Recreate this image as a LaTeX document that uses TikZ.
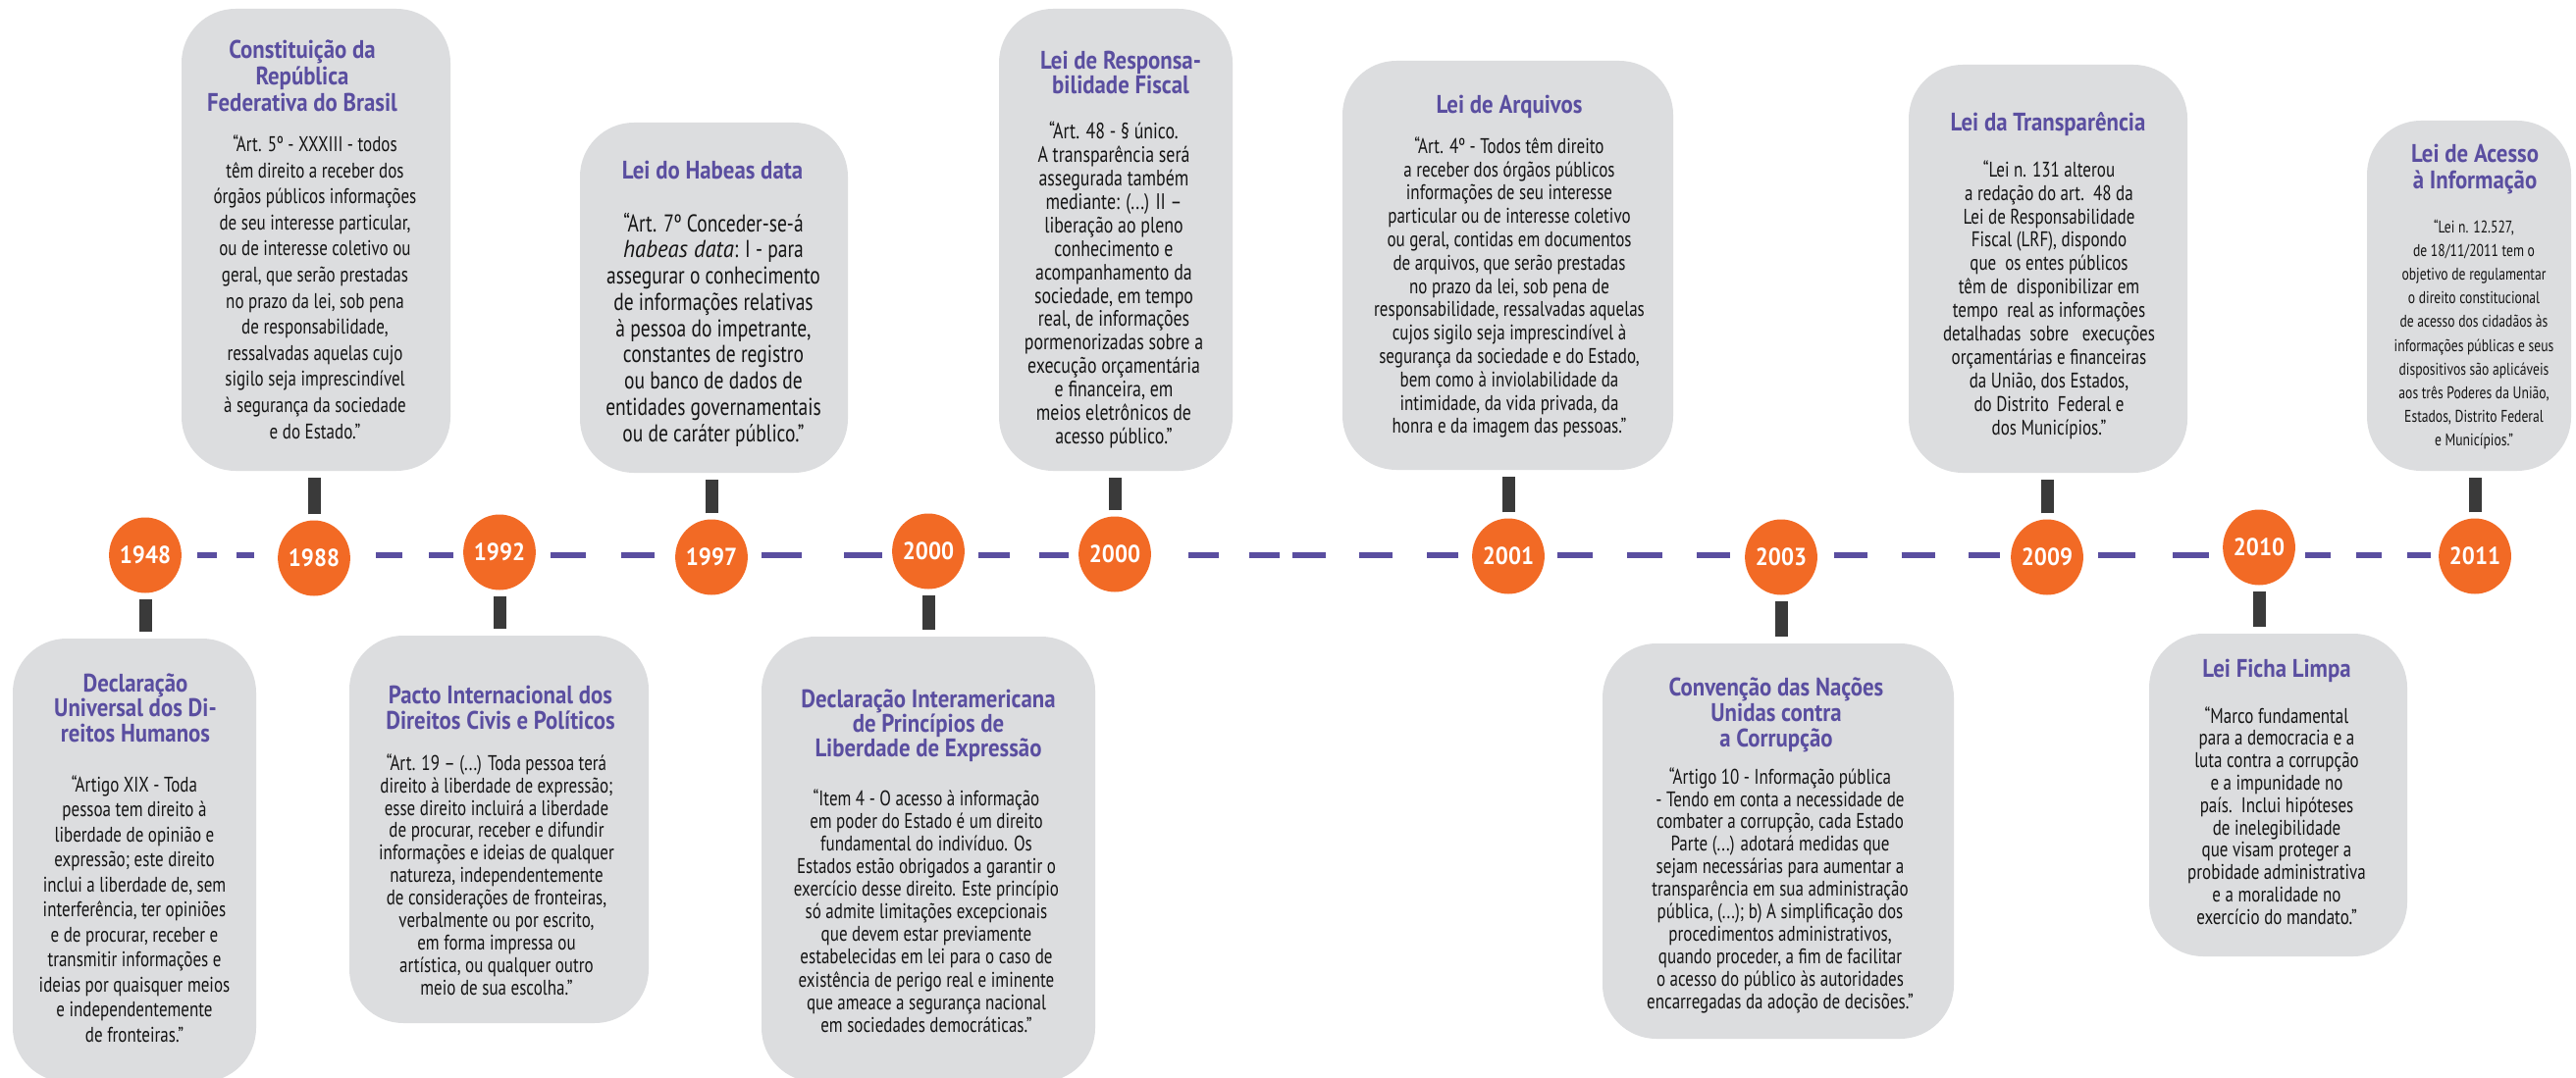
\documentclass[tikz,border=0pt]{standalone}
\usepackage{fontspec}
\setmainfont{PT Sans}
\newfontfamily\bodyf{PT Sans}[FakeStretch=0.787]
\newfontfamily\titlef{PT Sans}[FakeStretch=0.88]
\newfontfamily\yearf{PT Sans}[FakeStretch=0.92]
\newfontfamily\plainf{PT Sans}[FakeStretch=0.92]
\usetikzlibrary{shapes.geometric}
\definecolor{tlorange}{RGB}{242,106,37}
\definecolor{tlpurple}{RGB}{90,78,160}
\definecolor{tlgrey}{RGB}{220,221,223}
\definecolor{tlstub}{RGB}{58,58,58}
\definecolor{tltext}{RGB}{20,20,20}
\begin{document}
\begin{tikzpicture}[x=1pt,y=-1pt,
  yearnode/.style={ellipse, fill=tlorange, minimum width=72pt, minimum height=77pt, inner sep=0pt, text=white, font=\yearf\bfseries\fontsize{25}{25}\selectfont},
  card/.style={fill=tlgrey, rounded corners=55pt, inner sep=0pt},
  titletext/.style 2 args={align=center, inner sep=0pt, text=tlpurple, font=\titlef\bfseries\fontsize{#1}{#2}\selectfont},
  bodytext/.style 2 args={align=center, inner sep=0pt, text=tltext, font=\bodyf\fontsize{#1}{#2}\selectfont},
  stub/.style={draw=tlstub, line width=13pt, shorten <=6pt, shorten >=7pt},
  dashline/.style={draw=tlpurple, line width=5.5pt},
]
\useasboundingbox (0,0) rectangle (2625,1099);
\fill[white] (0,0) rectangle (2625,1099);

% ---------- cards ----------
\node[card, minimum width=248pt, minimum height=452pt] (b1948) at (137,877) {};
\node[card, minimum width=274pt, minimum height=471pt] (b1988) at (322,244.5) {};
\node[card, minimum width=305pt, minimum height=395pt] (b1992) at (508.5,845.5) {};
\node[card, minimum width=273pt, minimum height=357pt] (b1997) at (727.5,303.5) {};
\node[card, minimum width=340pt, minimum height=454pt] (b2000a) at (946,876) {};
\node[card, minimum width=238pt, minimum height=471pt] (b2000b) at (1137,244.5) {};
\node[card, minimum width=337pt, minimum height=417pt] (b2001) at (1536.5,270.5) {};
\node[card, minimum width=358pt, minimum height=403pt] (b2003) at (1812,857.5) {};
\node[card, minimum width=284pt, minimum height=416pt] (b2009) at (2087,274) {};
\node[card, minimum width=263pt, minimum height=329pt] (b2010) at (2321.5,810.5) {};
\node[card, minimum width=208pt, minimum height=357pt] (b2011) at (2516,301.5) {};

% ---------- year circles ----------
\node[yearnode] (c1948) at (148,566) {1948};
\node[yearnode] (c1988) at (320,569) {1988};
\node[yearnode] (c1992) at (509,563) {1992};
\node[yearnode] (c1997) at (725,568) {1997};
\node[yearnode] (c2000a) at (946,562) {2000};
\node[yearnode] (c2000b) at (1136,565) {2000};
\node[yearnode] (c2001) at (1537,567) {2001};
\node[yearnode] (c2003) at (1815,568) {2003};
\node[yearnode] (c2009) at (2086,568) {2009};
\node[yearnode] (c2010) at (2302,558) {2010};
\node[yearnode] (c2011) at (2522,567) {2011};

% ---------- dashed timeline ----------
\coordinate (lineY) at (0,566);
\draw[dashline, dash pattern=on 20pt off 20pt, shorten <=16pt, shorten >=24pt] (c1948.east |- lineY) -- (c1988.west |- lineY);
\draw[dashline, dash pattern=on 27pt off 27pt, shorten <=26pt, shorten >=10pt] (c1988.east |- lineY) -- (c1992.west |- lineY);
\draw[dashline, dash pattern=on 36pt off 36pt, shorten <=15pt, shorten >=21pt] (c1992.east |- lineY) -- (c1997.west |- lineY);
\draw[dashline, dash pattern=on 41pt off 43pt, shorten <=14pt, shorten >=10pt] (c1997.east |- lineY) -- (c2000a.west |- lineY);
\draw[dashline, dash pattern=on 32pt off 30pt, shorten <=14pt, shorten >=10pt] (c2000a.east |- lineY) -- (c2000b.west |- lineY);
\draw[dashline, dash pattern=on 31pt off 31pt on 31pt off 13pt on 34pt off 34pt on 34pt off 35pt on 34pt off 100pt, shorten <=38pt, shorten >=14pt] (c2000b.east |- lineY) -- (c2001.west |- lineY);
\draw[dashline, dash pattern=on 36pt off 35pt, shorten <=13pt, shorten >=15pt] (c2001.east |- lineY) -- (c2003.west |- lineY);
\draw[dashline, dash pattern=on 34pt off 34.5pt, shorten <=17pt, shorten >=11pt] (c2003.east |- lineY) -- (c2009.west |- lineY);
\draw[dashline, dash pattern=on 38pt off 38pt, shorten <=15pt, shorten >=14pt] (c2009.east |- lineY) -- (c2010.west |- lineY);
\draw[dashline, dash pattern=on 26pt off 26pt, shorten <=10pt, shorten >=8pt] (c2010.east |- lineY) -- (c2011.west |- lineY);

% ---------- stubs ----------
\draw[stub] (c1948.south) -- (c1948.south |- b1948.north);
\draw[stub] (c1988.north) -- (c1988.north |- b1988.south);
\draw[stub] (c1992.south) -- (c1992.south |- b1992.north);
\draw[stub] (c1997.north) -- (c1997.north |- b1997.south);
\draw[stub] (c2000a.south) -- (c2000a.south |- b2000a.north);
\draw[stub] (c2000b.north) -- (c2000b.north |- b2000b.south);
\draw[stub] (c2001.north) -- (c2001.north |- b2001.south);
\draw[stub] (c2003.south) -- (c2003.south |- b2003.north);
\draw[stub] (c2009.north) -- (c2009.north |- b2009.south);
\draw[stub] (c2010.south) -- (c2010.south |- b2010.north);
\draw[stub] (c2011.north) -- (c2011.north |- b2011.south);

% ---------- texts ----------
\node[titletext={25.9}{25.5}] (t1948) at (138,721.5) {Declaração\\Universal dos Di-\\reitos Humanos};
\node[bodytext={21.6}{25.5}] (x1948) at (137,926.5) {“Artigo XIX - Toda\\pessoa tem direito à\\liberdade de opinião e\\expressão; este direito\\inclui a liberdade de, sem\\interferência, ter opiniões\\e de procurar, receber e\\transmitir informações e\\ideias por quaisquer meios\\e independentemente\\de fronteiras.”};

\node[titletext={25.9}{27}] (t1988) at (308,77) {Constituição da\\República\\Federativa do Brasil};
\node[bodytext={21.6}{26.6}] (x1988) at (321,292.5) {“Art. 5º - XXXIII - todos\\têm direito a receber dos\\órgãos públicos informações\\de seu interesse particular,\\ou de interesse coletivo ou\\geral, que serão prestadas\\no prazo da lei, sob pena\\de responsabilidade,\\ressalvadas aquelas cujo\\sigilo seja imprescindível\\à segurança da sociedade\\e do Estado.”};

\node[titletext={25.9}{26}] (t1992) at (510,721) {Pacto Internacional dos\\Direitos Civis e Políticos};
\node[bodytext={21.6}{22.9}] (x1992) at (506,891.5) {“Art. 19 – (...) Toda pessoa terá\\direito à liberdade de expressão;\\esse direito incluirá a liberdade\\de procurar, receber e difundir\\informações e ideias de qualquer\\natureza, independentemente\\de considerações de fronteiras,\\verbalmente ou por escrito,\\em forma impressa ou\\artística, ou qualquer outro\\meio de sua escolha.”};

\node[titletext={25.9}{26}] (t1997) at (726,173) {Lei do Habeas data};
\node[bodytext={24.8}{26.75}] (x1997) at (727,336) {“Art. 7º Conceder-se-á\\{\plainf\itshape habeas data}: I - para\\assegurar o conhecimento\\de informações relativas\\à pessoa do impetrante,\\constantes de registro\\ou banco de dados de\\entidades governamentais\\ou de caráter público.”};

\node[titletext={25.9}{25}] (t2000a) at (946,740) {Declaração Interamericana\\de Princípios de\\Liberdade de Expressão};
\node[bodytext={21.6}{23.1}] (x2000a) at (944,928.5) {“Item 4 - O acesso à informação\\em poder do Estado é um direito\\fundamental do indivíduo. Os\\Estados estão obrigados a garantir o\\exercício desse direito. Este princípio\\só admite limitações excepcionais\\que devem estar previamente\\estabelecidas em lei para o caso de\\existência de perigo real e iminente\\que ameace a segurança nacional\\em sociedades democráticas.”};

\node[titletext={25.9}{25}] (t2000b) at (1142,73.5) {Lei de Responsa-\\bilidade Fiscal};
\node[bodytext={22.7}{23.9}] (x2000b) at (1135,290.5) {“Art. 48 - § único.\\A transparência será\\assegurada também\\mediante: (...) II –\\liberação ao pleno\\conhecimento e\\acompanhamento da\\sociedade, em tempo\\real, de informações\\pormenorizadas sobre a\\execução orçamentária\\e financeira, em\\meios eletrônicos de\\acesso público.”};

\node[titletext={25.9}{26}] (t2001) at (1538,109) {Lei de Arquivos};
\node[bodytext={21.6}{23.8}] (x2001) at (1538,293) {“Art. 4º - Todos têm direito\\a receber dos órgãos públicos\\informações de seu interesse\\particular ou de interesse coletivo\\ou geral, contidas em documentos\\de arquivos, que serão prestadas\\no prazo da lei, sob pena de\\responsabilidade, ressalvadas aquelas\\cujos sigilo seja imprescindível à\\segurança da sociedade e do Estado,\\bem como à inviolabilidade da\\intimidade, da vida privada, da\\honra e da imagem das pessoas.”};

\node[titletext={25.9}{26}] (t2003) at (1810,729) {Convenção das Nações\\Unidas contra\\a Corrupção};
\node[bodytext={21.6}{22.9}] (x2003) at (1814,907.5) {“Artigo 10 - Informação pública\\- Tendo em conta a necessidade de\\combater a corrupção, cada Estado\\Parte (...) adotará medidas que\\sejam necessárias para aumentar a\\transparência em sua administração\\pública, (...); b) A simplificação dos\\procedimentos administrativos,\\quando proceder, a fim de facilitar\\o acesso do público às autoridades\\encarregadas da adoção de decisões.”};

\node[titletext={25.9}{26}] (t2009) at (2087,127) {Lei da Transparência};
\node[bodytext={21.6}{23.9}] (x2009) at (2088,305.5) {“Lei n. 131 alterou\\a redação do art.\ \ 48 da\\Lei de Responsabilidade\\Fiscal (LRF), dispondo\\que\ \ os entes públicos\\têm de\ \ disponibilizar em\\tempo\ \ real as informações\\detalhadas\ \ sobre\ \ \ execuções\\orçamentárias e financeiras\\da União, dos Estados,\\do Distrito\ \ Federal e\\dos Municípios.”};

\node[titletext={25.9}{26}] (t2010) at (2320,684) {Lei Ficha Limpa};
\node[bodytext={21.6}{22.8}] (x2010) at (2320,831.5) {“Marco fundamental\\para a democracia e a\\luta contra a corrupção\\e a impunidade no\\país.\ \ Inclui hipóteses\\de inelegibilidade\\que visam proteger a\\probidade administrativa\\e a moralidade no\\exercício do mandato.”};

\node[titletext={25.9}{27}] (t2011) at (2522,172.5) {Lei de Acesso\\à Informação};
\node[bodytext={17.3}{24.2}] (x2011) at (2521,341) {“Lei n. 12.527,\\de 18/11/2011 tem o\\objetivo de regulamentar\\o direito constitucional\\de acesso dos cidadãos às\\informações públicas e seus\\dispositivos são aplicáveis\\aos três Poderes da União,\\Estados, Distrito Federal\\e Municípios.”};
\end{tikzpicture}
\end{document}
